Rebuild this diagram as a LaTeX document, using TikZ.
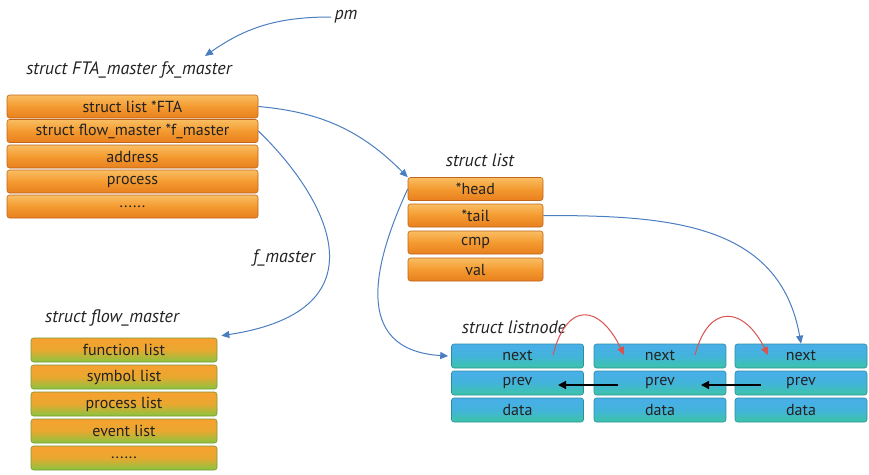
\documentclass[tikz,border=0pt]{standalone}
\usepackage{fontspec}
\setmainfont{PT Sans}
\usetikzlibrary{arrows.meta}
\definecolor{linkblue}{HTML}{4A7EC0}
\definecolor{linkred}{HTML}{D9534F}
\definecolor{txt}{HTML}{222222}
\definecolor{otop}{HTML}{F9BE62}
\definecolor{omid}{HTML}{F49A30}
\definecolor{obot}{HTML}{E8801E}
\definecolor{oedge}{HTML}{C0651A}
\definecolor{gtop}{HTML}{F8A030}
\definecolor{gmid}{HTML}{E8A830}
\definecolor{gbot}{HTML}{88C440}
\definecolor{gedge}{HTML}{7A9A30}
\definecolor{btop}{HTML}{4AAEEA}
\definecolor{bmid}{HTML}{42B4DA}
\definecolor{bbot}{HTML}{3CC4A6}
\definecolor{bedge}{HTML}{2C8FA0}
\newcommand{\moredots}{......}
\tikzset{
  cell/.style={rounded corners=2.5pt, inner sep=0pt, line width=0.6pt, font=\fontsize{16}{16}\selectfont, text=txt},
  ocell/.style={cell, draw=oedge, top color=otop, bottom color=obot, middle color=omid},
  gcell/.style={cell, draw=gedge, top color=gtop, bottom color=gbot, middle color=gmid},
  bcell/.style={cell, draw=bedge, top color=btop, bottom color=bbot, middle color=bmid},
  ttl/.style={font=\fontsize{18}{18}\selectfont\itshape, text=txt},
  link/.style={draw=linkblue, line width=1pt, -{Triangle[length=8pt,width=7pt]}},
  nextlink/.style={draw=linkred, line width=1pt, -{Triangle[length=8pt,width=7pt]}},
  prevlink/.style={draw=black, line width=1.4pt, -{Triangle[length=8pt,width=8pt]}},
}
\begin{document}
\begin{tikzpicture}[x=1pt,y=-1pt]
\useasboundingbox (0,0) rectangle (869,474);

% struct FTA_master
\node[ttl] (tfm) at (129,70) {struct FTA\_master fx\_master};
\foreach \n/\y/\t in {1/106.5/struct list *FTA, 2/131/struct flow\_master *f\_master, 3/156.5/address, 4/181.5/process, 5/206.5/\moredots}
  \node[ocell, minimum width=251pt, minimum height=23pt] (fm\n) at (132.5,\y) {\t};

% struct list
\node[ttl] (tl) at (480,160) {struct list};
\foreach \n/\y/\t in {1/189/*head, 2/215.5/*tail, 3/242.5/cmp, 4/269.5/val}
  \node[ocell, minimum width=135pt, minimum height=23pt] (l\n) at (475.5,\y) {\t};

% struct flow_master
\node[ttl] (tfl) at (112,318) {struct flow\_master};
\foreach \n/\y/\t in {1/350/function list, 2/377/symbol list, 3/404/process list, 4/431/event list, 5/458/\moredots}
  \node[gcell, minimum width=186pt, minimum height=24pt] (fl\n) at (124,\y) {\t};

% struct listnode
\node[ttl] (tn) at (514,327) {struct listnode};
\foreach \c/\x in {1/517.5, 2/660, 3/801}
  \foreach \r/\y/\t in {1/356/next, 2/383/prev, 3/410/data}
    \node[bcell, minimum width=132pt, minimum height=24pt] (n\c\r) at (\x,\y) {\t};

% pointer labels
\node[ttl] (pm) at (346,17) {pm};
\node[ttl] (lfm) at (284,258) {f\_master};

% pointers
\coordinate (pmtip) at (205,56);
\draw[link] (pm.west) to[out=180, in=35] (pmtip);
\draw[link] (fm1.east) to[out=-5, in=135] (l1.north west);
\draw[link] (fm2.east) .. controls (325,195) and (390,310) .. ([xshift=4pt,yshift=2pt]fl1.north east);
\draw[link] (l1.west) .. controls (375,260) and (350,350) .. ([xshift=-3pt]n11.west);
\draw[link] (l2.east) to[out=0, in=100, looseness=1.1] (n31.north);

% next links
\coordinate (a1) at (553,355);
\coordinate (b1) at (624,355);
\coordinate (a2) at (695,355);
\coordinate (b2) at (768,355);
\draw[nextlink] (a1) .. controls (567,300) and (600,305) .. (b1);
\draw[nextlink] (a2) .. controls (709,302) and (744,307) .. (b2);

% prev links
\coordinate (p1) at (618,385);
\coordinate (q1) at (558,385);
\coordinate (p2) at (761,385);
\coordinate (q2) at (701,385);
\draw[prevlink] (p1) -- (q1);
\draw[prevlink] (p2) -- (q2);
\end{tikzpicture}
\end{document}
